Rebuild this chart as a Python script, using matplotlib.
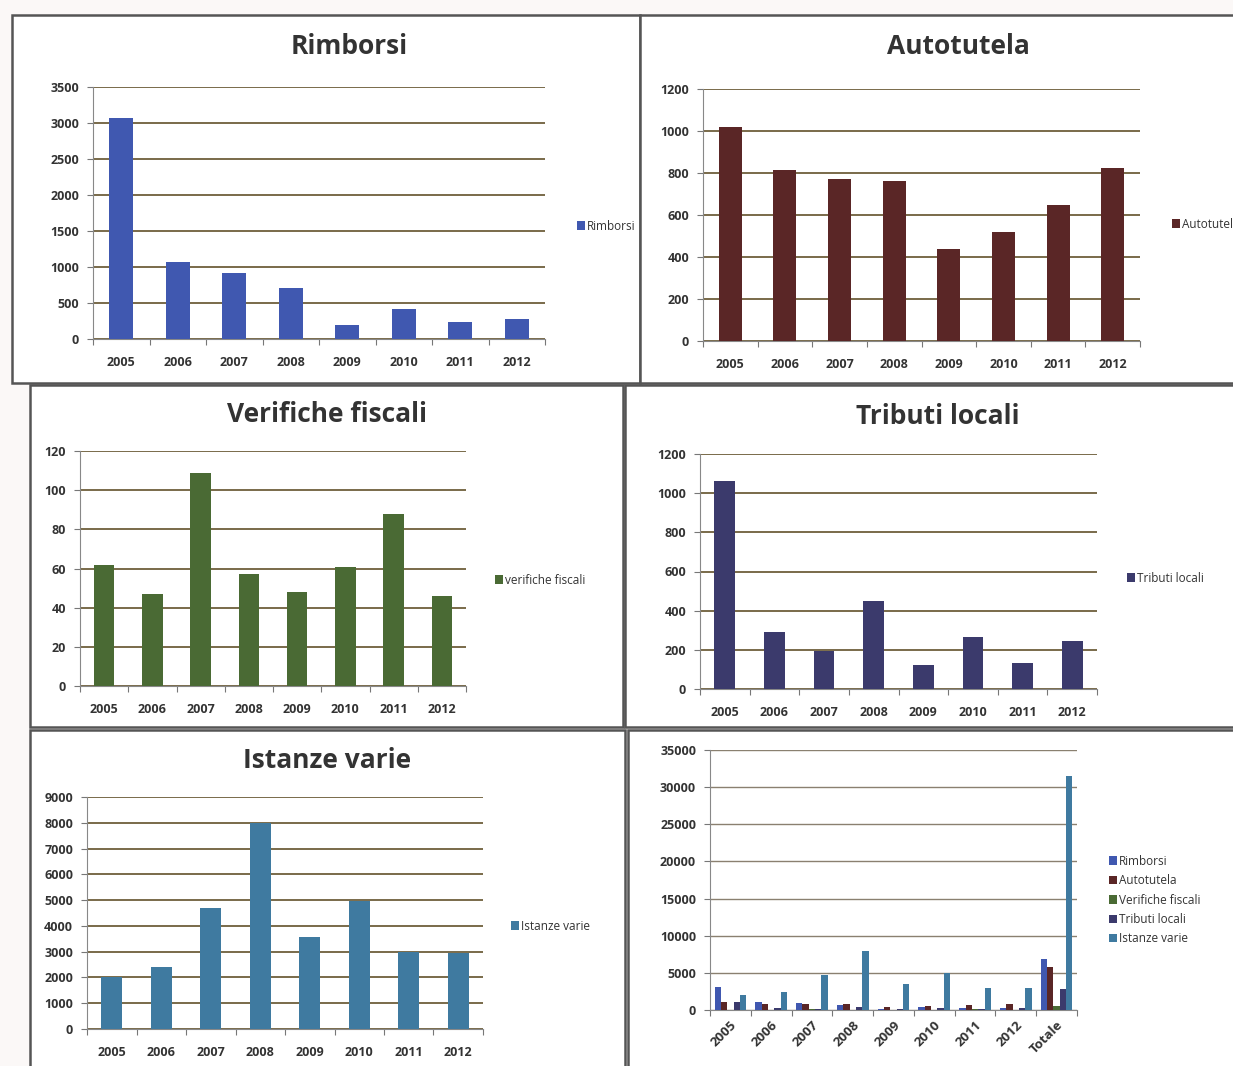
import numpy as np
import matplotlib.pyplot as plt
from matplotlib.patches import Rectangle
from matplotlib.transforms import Bbox

W, H = 1233, 1066

anni = ["2005", "2006", "2007", "2008", "2009", "2010", "2011", "2012"]
rimborsi = [3070, 1070, 920, 710, 200, 410, 240, 280]
autotutela = [1020, 815, 770, 760, 440, 520, 650, 825]
verifiche = [62, 47, 109, 57, 48, 61, 88, 46]
tributi = [1060, 290, 195, 450, 125, 265, 135, 245]
istanze = [2000, 2400, 4700, 7990, 3560, 4950, 2970, 2950]

nomi = ["Rimborsi", "Autotutela", "Verifiche fiscali", "Tributi locali", "Istanze varie"]
colori = ["#4058b0", "#5a2626", "#4a6a34", "#3b3a6c", "#3f7aa0"]

plt.rcParams['font.family'] = ['Open Sans', 'DejaVu Sans']

fig = plt.figure(figsize=(W / 100, H / 100), dpi=100)
fig.patch.set_facecolor("#fbf8f7")


def px_box(x0, y0, x1, y1):
    # pixel coords (top-left origin) -> figure fraction [l, b, w, h]
    return [x0 / W, 1 - y1 / H, (x1 - x0) / W, (y1 - y0) / H]


def pannello(x0, y0, x1, y1):
    l, b, w, h = px_box(x0, y0, x1, y1)
    fig.patches.append(Rectangle((l, b), w, h, transform=fig.transFigure,
                                 facecolor="white", edgecolor="#555555", lw=1.8, zorder=-5))
    return Bbox.from_extents(x0, H - y1, x1 - 4, H - y0)


def stile(ax, ymax, step, n):
    ax.set_ylim(0, ymax)
    ax.set_yticks(np.arange(0, ymax + 1, step))
    ax.set_xlim(-0.5, n - 0.5)
    ax.set_xticks(np.arange(-0.5, n, 1.0))
    ax.set_xticklabels([])
    ax.set_xticks(np.arange(n), minor=True)
    ax.tick_params(axis="x", which="minor", length=0, pad=12, labelsize=9)
    ax.tick_params(axis="x", which="major", length=4, color="#777777", direction="out")
    ax.tick_params(axis="y", length=4, color="#777777", labelsize=9, pad=6)
    for t in ax.get_yticklabels():
        t.set_fontweight("bold")
        t.set_color("#333333")
    ax.grid(axis="y", color="#6e5f3c", lw=1.3)
    ax.set_axisbelow(True)
    for s in ["top", "right"]:
        ax.spines[s].set_visible(False)
    ax.spines["left"].set_color("#888888")
    ax.spines["bottom"].set_color("#888888")
    ax.set_facecolor("none")


def grafico(panel, box, titolo, tpos, dati, colore, ymax, step, lpos, nome):
    clip = pannello(*panel)
    ax = fig.add_axes(px_box(*box))
    x = np.arange(len(anni))
    ax.bar(x, dati, width=0.42, color=colore, label=nome, zorder=3)
    stile(ax, ymax, step, len(anni))
    ax.set_xticklabels(anni, minor=True, fontweight="bold", color="#333333")
    fig.text(tpos[0] / W, 1 - tpos[1] / H, titolo, ha="center", va="center",
             fontsize=19, fontweight="bold", color="#333333")
    leg = ax.legend(loc="center left", bbox_to_anchor=(lpos[0] / W, 1 - lpos[1] / H),
                    bbox_transform=fig.transFigure, frameon=False, fontsize=8.5,
                    handlelength=0.7, handleheight=0.7, handletextpad=0.2, borderaxespad=0)
    for t in leg.get_texts():
        t.set_clip_box(clip)
        t.set_clip_on(True)
        t.set_color("#333333")


grafico((12, 15, 640, 383), (93, 87, 545, 339), "Rimborsi", (349, 47),
        rimborsi, colori[0], 3500, 500, (572, 226), "Rimborsi")
grafico((640, 15, 1240, 383), (703, 89, 1140, 341), "Autotutela", (958, 47),
        autotutela, colori[1], 1200, 200, (1167, 224), "Autotutela")
grafico((30, 385, 623, 727), (80, 451, 466, 686), "Verifiche fiscali", (327, 415),
        verifiche, colori[2], 120, 20, (490, 580), "verifiche fiscali")
grafico((625, 385, 1240, 727), (700, 454, 1097, 689), "Tributi locali", (938, 416),
        tributi, colori[3], 1200, 200, (1122, 578), "Tributi locali")
grafico((30, 730, 625, 1070), (87, 797, 483, 1029), "Istanze varie", (327, 761),
        istanze, colori[4], 9000, 1000, (506, 926), "Istanze varie")

# riepilogo con totale
pannello(628, 730, 1240, 1070)
serie = [rimborsi, autotutela, verifiche, tributi, istanze]
categorie = anni + ["Totale"]
ax = fig.add_axes(px_box(710, 750, 1077, 1010))
x = np.arange(len(categorie))
bw = 0.155
for k, (vals, nome, col) in enumerate(zip(serie, nomi, colori)):
    v = list(vals) + [sum(vals)]
    ax.bar(x + (k - 2) * bw, v, width=bw, color=col, label=nome, zorder=3)
stile(ax, 35000, 5000, len(categorie))
ax.grid(axis="y", color="#8a8070", lw=1.0)
ax.set_xticklabels(categorie, minor=True, rotation=45, ha="right", rotation_mode="anchor",
                   fontweight="bold", color="#333333", fontsize=9.5)
ax.tick_params(axis="x", which="minor", pad=6)
leg = ax.legend(loc="center left", bbox_to_anchor=(1104 / W, 1 - 900 / H),
                bbox_transform=fig.transFigure, frameon=False, fontsize=8.5,
                handlelength=0.7, handleheight=0.7, handletextpad=0.2,
                labelspacing=0.55, borderaxespad=0)
for t in leg.get_texts():
    t.set_color("#333333")

fig.savefig("out.png", dpi=100, facecolor=fig.get_facecolor())
